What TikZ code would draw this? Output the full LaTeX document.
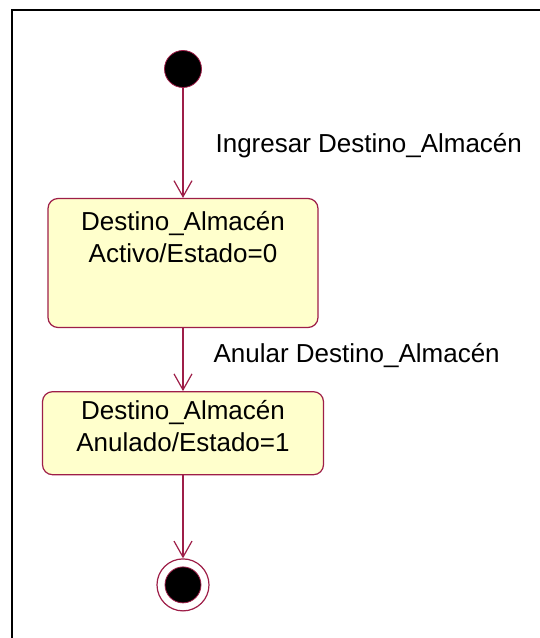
\documentclass[tikz,border=0pt]{standalone}
\usepackage{fontspec}
\setmainfont{Liberation Sans}
\usepackage{tikz}
\usetikzlibrary{arrows.meta, positioning}
\definecolor{RoseLine}{RGB}{158,30,72}
\definecolor{StateFill}{RGB}{255,255,204}

\begin{document}
\begin{tikzpicture}[
  x=1pt, y=1pt,
  font=\fontsize{26pt}{32pt}\selectfont,
  state/.style={rectangle, rounded corners=10pt, draw=RoseLine,
                line width=1.2pt, fill=StateFill},
  statetxt/.style={anchor=north, align=center, inner sep=0pt},
  startdot/.style={circle, draw=RoseLine, line width=0.8pt, fill=black,
                   minimum size=37pt, inner sep=0pt},
  endring/.style={circle, draw=RoseLine, line width=1.2pt, fill=white,
                  minimum size=52pt, inner sep=0pt},
  enddot/.style={startdot, minimum size=36pt},
  trans/.style={-{Straight Barb[length=16pt, width=18pt]}, RoseLine,
                line width=1.2pt},
  trlabel/.style={anchor=base west, inner sep=0pt, text=black}
]
\useasboundingbox (0,0) rectangle (540,638);

% frame
\draw[line width=2pt] (12,0) |- (540,628);

\node[startdot] (ini) at (183,569) {};

\node[state, minimum width=270pt, minimum height=129pt,
      below=110pt of ini,
      label={[statetxt, label distance=-13pt]north:Destino\_Almacén\\Activo/Estado=0}]
    (activo) {};

\node[state, minimum width=281pt, minimum height=83pt,
      below=63pt of activo,
      label={[statetxt, label distance=-9pt]north:Destino\_Almacén\\Anulado/Estado=1}]
    (anulado) {};

\node[endring, below=83pt of anulado] (fin) {};
\node[enddot] (findot) at (fin) {};

\draw[trans] (ini) -- node[trlabel, pos=0.59, xshift=32pt] {Ingresar Destino\_Almacén} (activo);
\draw[trans] (activo) -- node[trlabel, pos=0.54, xshift=30pt] {Anular Destino\_Almacén} (anulado);
\draw[trans] (anulado) -- (fin);

\end{tikzpicture}
\end{document}
